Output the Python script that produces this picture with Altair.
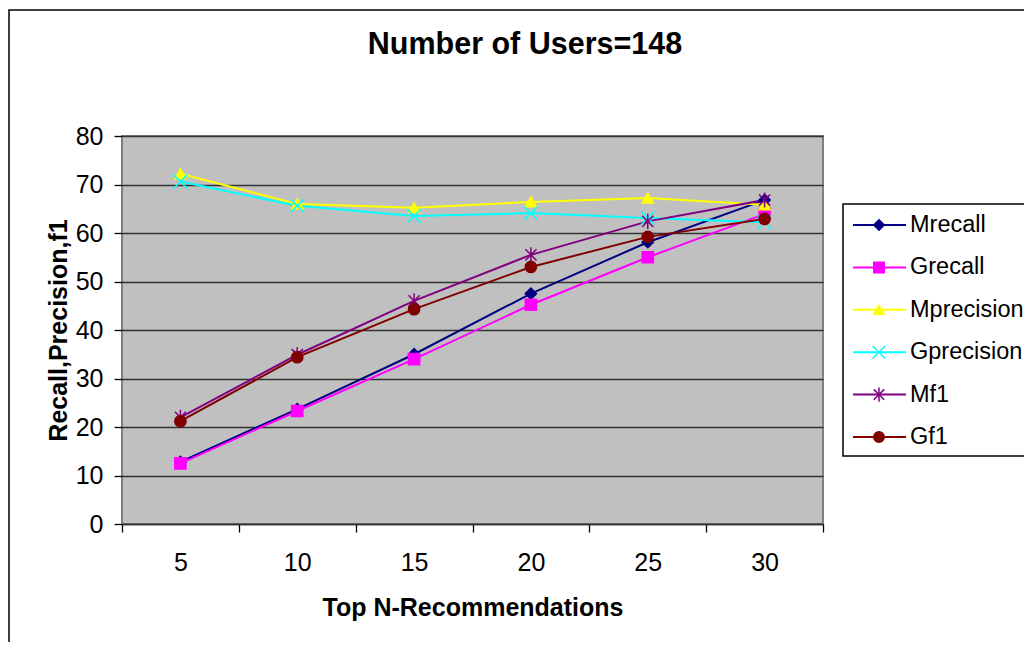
import altair as alt
import pandas as pd

FONT = "Liberation Sans"

N = [5, 10, 15, 20, 25, 30]
series_names = ["Mrecall", "Grecall", "Mprecision", "Gprecision", "Mf1", "Gf1"]
Mrecall = [12.8, 23.7, 35.0, 47.5, 58.1, 66.8]
Grecall = [12.5, 23.3, 34.0, 45.2, 55.0, 63.9]
Mprecision = [72.2, 66.0, 65.2, 66.4, 67.2, 65.8]
Gprecision = [70.6, 65.6, 63.5, 64.1, 63.1, 62.2]
Mf1 = [22.0, 34.9, 46.0, 55.5, 62.4, 66.8]
Gf1 = [21.2, 34.4, 44.3, 53.0, 59.2, 62.9]
series_values = [Mrecall, Grecall, Mprecision, Gprecision, Mf1, Gf1]

colors = ["#000080", "#FF00FF", "#FFFF00", "#00FFFF", "#800080", "#800000"]
X_PATH = "M-1.2,-1.2L1.2,1.2M-1.2,1.2L1.2,-1.2"
AST_PATH = "M-1,-1L1,1M-1,1L1,-1M0,-1.35L0,1.35"
shapes = ["diamond", "square", "triangle-up", X_PATH, AST_PATH, "circle"]

rows = []
for name, vals in zip(series_names, series_values):
    for n, v in zip(N, vals):
        rows.append({"N": n, "value": v, "series": name})
df = pd.DataFrame(rows)
leg_df = pd.DataFrame({"series": series_names})
one = pd.DataFrame({"k": [0]})

color_scale = alt.Scale(domain=series_names, range=colors)
shape_scale = alt.Scale(domain=series_names, range=shapes)

x_enc = alt.X(
    "N:O",
    bandPosition=0.5,
    scale=alt.Scale(type="band", paddingInner=0, paddingOuter=0),
    axis=alt.Axis(
        title="Top N-Recommendations",
        tickBand="extent",
        labelAngle=0,
        grid=False,
        tickSize=8,
        labelPadding=38,
        labelBaseline="alphabetic",
        domainColor="#333333",
        domainWidth=1.5,
        titleX=350.5,
        titleY=91,
        titleBaseline="alphabetic",
        titleAlign="center",
    ),
)
y_enc = alt.Y(
    "value:Q",
    scale=alt.Scale(domain=[0, 80], nice=False),
    axis=alt.Axis(
        title="Recall,Precision,f1",
        values=list(range(0, 81, 10)),
        tickSize=8,
        labelPadding=11,
        domain=False,
        grid=True,
        gridColor="#333333",
        gridWidth=1.3,
        titleX=-56,
        titleY=194,
        titleAngle=-90,
        titleBaseline="alphabetic",
        titleAlign="center",
    ),
)

lines = alt.Chart(df).mark_line(strokeWidth=2).encode(
    x=x_enc,
    y=y_enc,
    color=alt.Color("series:N", scale=color_scale, legend=None, sort=series_names),
)
points = alt.Chart(df).mark_point(size=125, strokeWidth=1.5, opacity=1, fillOpacity=1).encode(
    x=x_enc,
    y=y_enc,
    fill=alt.Fill("series:N", scale=color_scale, legend=None),
    stroke=alt.Stroke("series:N", scale=color_scale, legend=None),
    shape=alt.Shape("series:N", scale=shape_scale, legend=None),
)
main = alt.layer(lines, points)

frame = alt.Chart(one).mark_rect(fill="transparent", stroke="black", strokeWidth=1.5).encode(
    x=alt.value(-113), x2=alt.value(1000), y=alt.value(-126), y2=alt.value(600)
)
box = alt.Chart(one).mark_rect(fill="white", stroke="black", strokeWidth=1.5).encode(
    x=alt.value(721), x2=alt.value(1000), y=alt.value(68), y2=alt.value(320)
)

leg_y = alt.Y(
    "series:N",
    scale=alt.Scale(type="point", domain=series_names, range=[89, 301], padding=0),
    axis=None,
)
leg_rule = alt.Chart(leg_df).mark_rule(strokeWidth=2).encode(
    x=alt.value(731), x2=alt.value(784), y=leg_y,
    color=alt.Color("series:N", scale=color_scale, legend=None),
)
leg_pts = alt.Chart(leg_df).mark_point(size=110, strokeWidth=1.5, opacity=1, fillOpacity=1).encode(
    x=alt.value(757), y=leg_y,
    fill=alt.Fill("series:N", scale=color_scale, legend=None),
    stroke=alt.Stroke("series:N", scale=color_scale, legend=None),
    shape=alt.Shape("series:N", scale=shape_scale, legend=None),
)
leg_text = alt.Chart(leg_df).mark_text(
    align="left", baseline="middle", fontSize=23.5, font=FONT, color="black"
).encode(x=alt.value(788), y=leg_y, text="series:N")
legend = alt.layer(leg_rule, leg_pts, leg_text)

chart = (
    alt.layer(frame, main, box, legend)
    .resolve_scale(y="independent")
    .properties(
        width=701,
        height=388,
        padding={"left": 114, "top": 128, "right": 201, "bottom": 118},
        autosize=alt.AutoSizeParams(type="none"),
        title=alt.TitleParams(
            "Number of Users=148",
            font=FONT,
            fontSize=30.5,
            fontWeight="bold",
            color="black",
            anchor="middle",
            baseline="alphabetic",
            dx=52.5,
            offset=-75,
        ),
    )
    .configure(background="white")
    .configure_view(fill="#C0C0C0", stroke="#808080", strokeWidth=2)
    .configure_axis(
        labelFont=FONT,
        labelFontSize=25,
        labelColor="black",
        tickColor="black",
        tickWidth=1.3,
        titleFont=FONT,
        titleFontSize=25,
        titleFontWeight="bold",
        titleColor="black",
    )
)

chart.save("out.html", embed_options={"renderer": "svg", "actions": False})
